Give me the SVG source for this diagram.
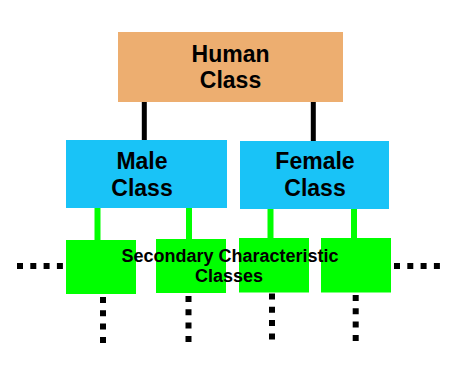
<svg xmlns="http://www.w3.org/2000/svg" width="470" height="373" viewBox="0 0 470 373">
<style>
text{font-family:"Liberation Sans",Arial,sans-serif;font-weight:bold;fill:#000;text-anchor:middle}
.big{font-size:23px}
.small{font-size:18px}
.human{fill:#EDAE70}
.sex{fill:#19C3F7}
.sec{fill:#00FF00}
.blk{stroke:#000;stroke-width:5}
.grn{stroke:#00FF00;stroke-width:6}
.dot{stroke:#000;stroke-width:6;stroke-dasharray:6 7.3}
</style>
<rect width="470" height="373" fill="#fff"/>
<g id="connectors">
<line class="blk" x1="144.3" y1="100" x2="144.3" y2="142"/>
<line class="blk" x1="313.3" y1="100" x2="313.3" y2="142"/>
<line class="grn" x1="97.5" y1="206" x2="97.5" y2="241"/>
<line class="grn" x1="189" y1="206" x2="189" y2="240"/>
<line class="grn" x1="270.5" y1="207" x2="270.5" y2="239"/>
<line class="grn" x1="354" y1="207" x2="354" y2="239"/>
<line class="dot" x1="17" y1="266" x2="66" y2="266"/>
<line class="dot" x1="394" y1="266" x2="442" y2="266"/>
<line class="dot" x1="103" y1="297" x2="103" y2="344"/>
<line class="dot" x1="188.5" y1="296" x2="188.5" y2="343"/>
<line class="dot" x1="272" y1="293.5" x2="272" y2="341"/>
<line class="dot" x1="355.7" y1="295" x2="355.7" y2="342"/>
</g>
<g id="human">
<rect class="human" x="118" y="32" width="225" height="70"/>
<text class="big" x="230.5" y="62">Human</text>
<text class="big" x="230.5" y="88">Class</text>
</g>
<g id="male">
<rect class="sex" x="66" y="140" width="161" height="68"/>
<text class="big" x="142" y="169">Male</text>
<text class="big" x="142" y="196">Class</text>
</g>
<g id="female">
<rect class="sex" x="240" y="141" width="149" height="68"/>
<text class="big" x="315" y="169">Female</text>
<text class="big" x="315" y="196">Class</text>
</g>
<g id="sec1"><rect class="sec" x="66" y="240" width="70" height="54"/></g>
<g id="sec2"><rect class="sec" x="156" y="239" width="70" height="54"/></g>
<g id="sec3"><rect class="sec" x="239" y="238" width="70" height="54.5"/></g>
<g id="sec4"><rect class="sec" x="321" y="238" width="70" height="54.5"/></g>
<g id="secondary-label">
<text class="small" x="230" y="262">Secondary Characteristic</text>
<text class="small" x="229" y="282">Classes</text>
</g>
</svg>
